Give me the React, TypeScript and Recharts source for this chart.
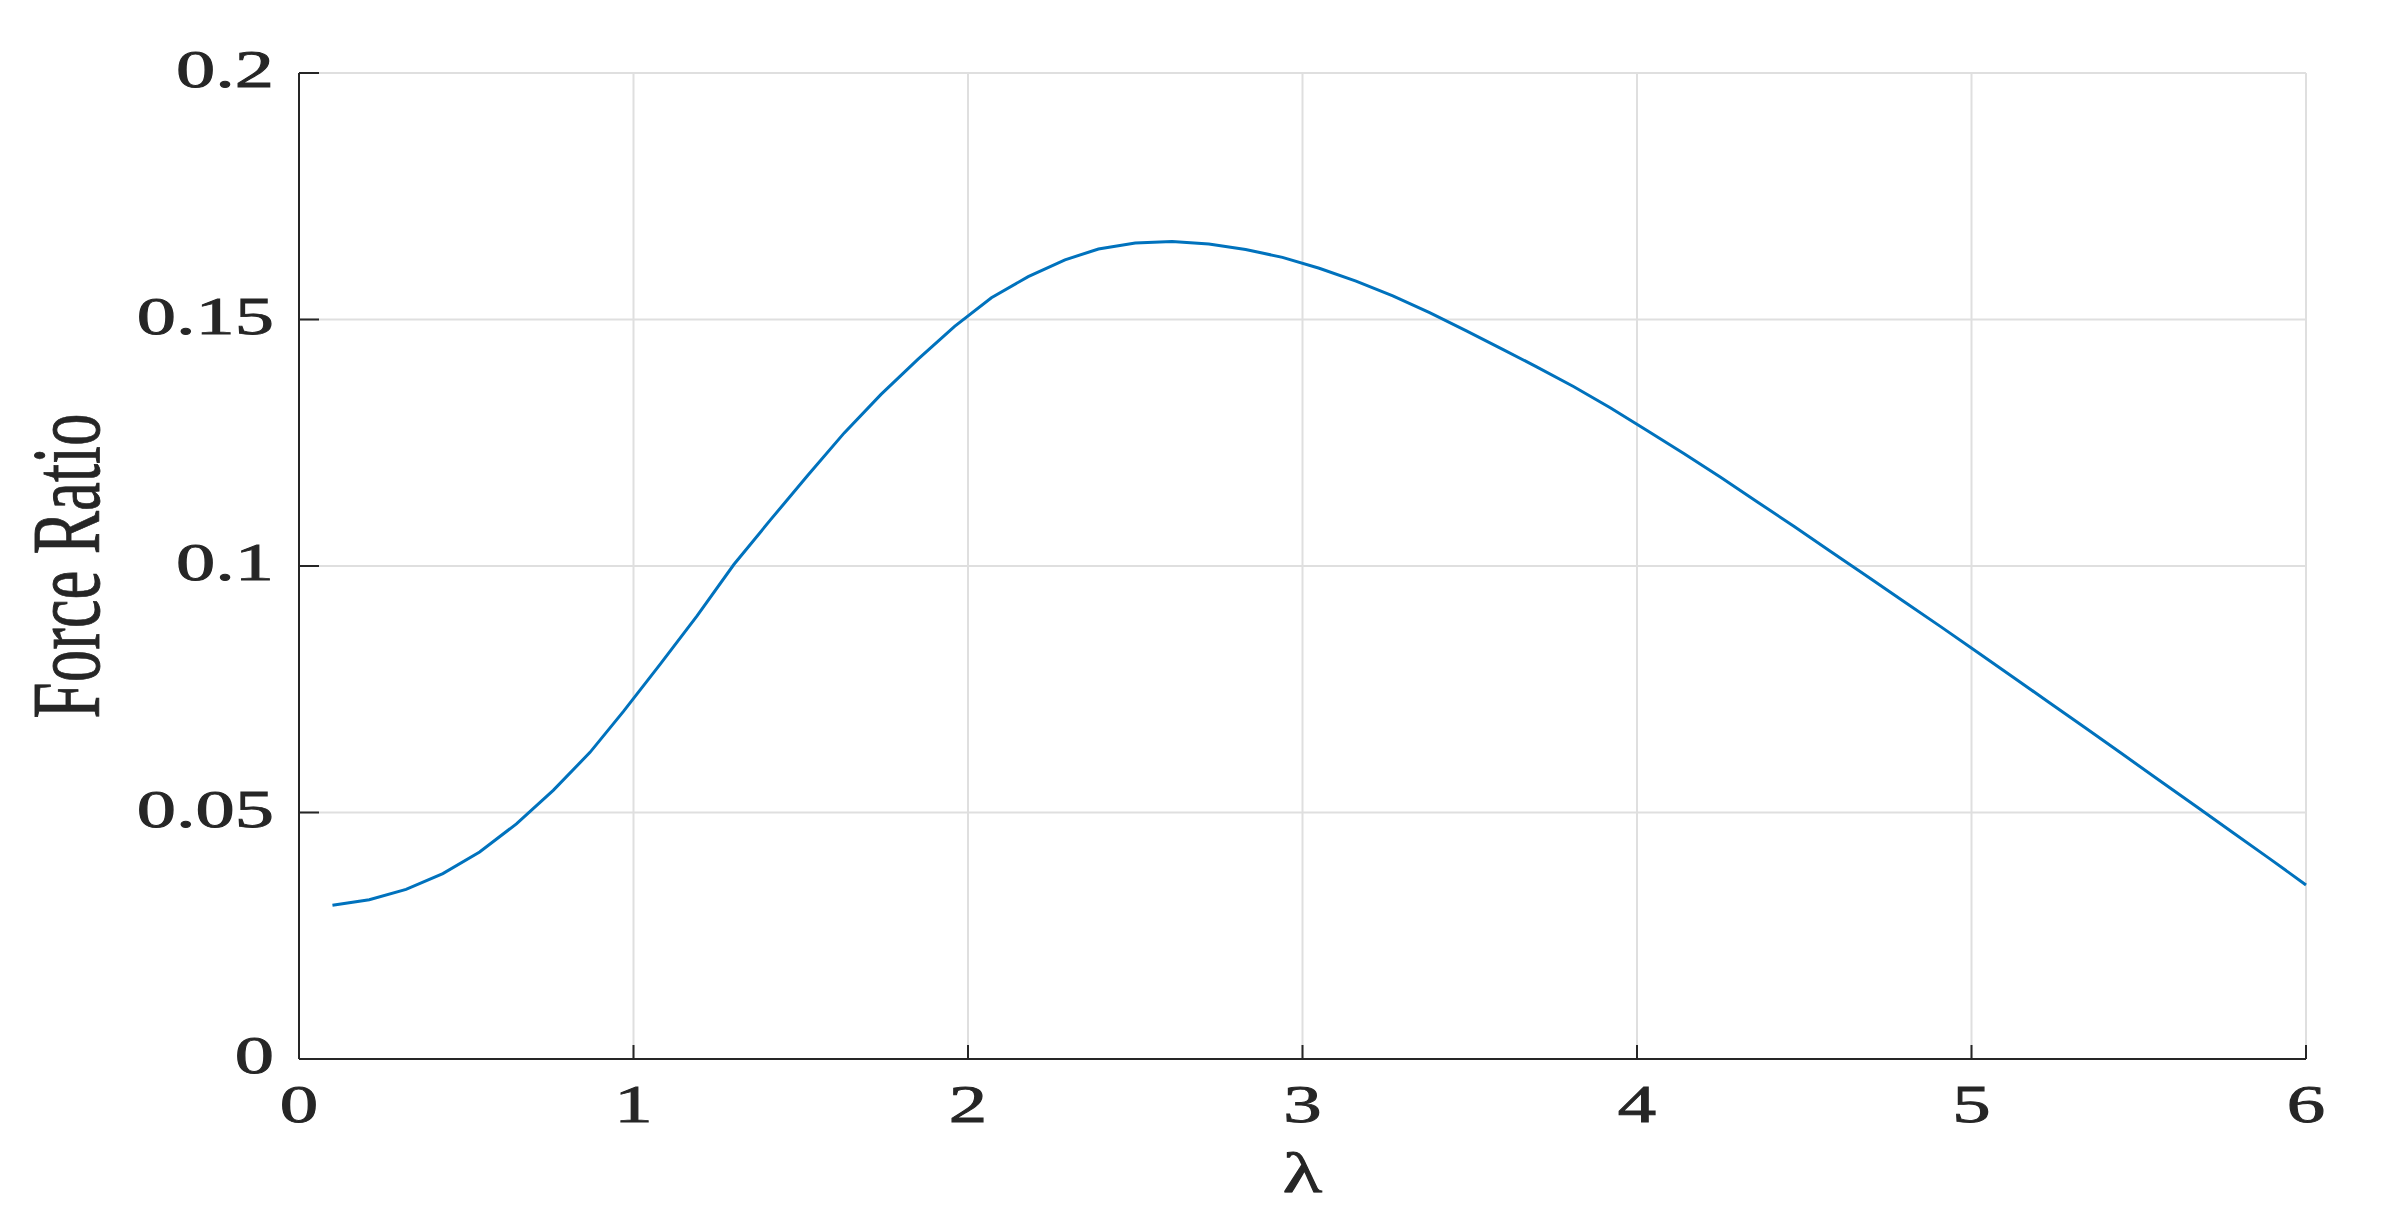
import { LineChart, Line, XAxis, YAxis, CartesianGrid, Label } from 'recharts'

const lambdaValues = [
  0.1, 0.21, 0.32, 0.43, 0.54, 0.65, 0.76, 0.87, 0.97, 1.08, 1.19, 1.3, 1.41,
  1.52, 1.63, 1.74, 1.85, 1.96, 2.07, 2.18, 2.29, 2.39, 2.5, 2.61, 2.72, 2.83,
  2.94, 3.05, 3.16, 3.27, 3.38, 3.49, 3.6, 3.7, 3.81, 3.92, 4.03, 4.14, 4.25,
  4.36, 4.47, 4.58, 4.69, 4.8, 4.91, 5.02, 5.13, 5.23, 5.34, 5.45, 5.56, 5.67,
  5.78, 5.89, 6.0,
]

const forceRatio = [
  0.0312, 0.0323, 0.0344, 0.0376, 0.042, 0.0477, 0.0545, 0.0622, 0.0705,
  0.0801, 0.0899, 0.1003, 0.1094, 0.1183, 0.127, 0.1348, 0.1419, 0.1486,
  0.1544, 0.1587, 0.1621, 0.1643, 0.1655, 0.1658, 0.1653, 0.1642, 0.1626,
  0.1604, 0.1578, 0.1548, 0.1514, 0.1477, 0.1439, 0.1404, 0.1364, 0.1321,
  0.1275, 0.1228, 0.118, 0.113, 0.108, 0.1029, 0.0978, 0.0927, 0.0876,
  0.0824, 0.0772, 0.0724, 0.0672, 0.0619, 0.0566, 0.0513, 0.046, 0.0407,
  0.0353,
]

const xTicks = [0, 1, 2, 3, 4, 5, 6]
const xTickLabels = ['0', '1', '2', '3', '4', '5', '6']
const yTicks = [0, 0.05, 0.1, 0.15, 0.2]
const yTickLabels = ['0', '0.05', '0.1', '0.15', '0.2']

const data = lambdaValues.map((l, i) => ({ lambda: l, ratio: forceRatio[i] }))

const INK = '#262626'
const FONT = '"Liberation Serif", serif'

const XTick = ({ x, y, payload, index }: any) => (
  <g>
    <line x1={x} y1={y} x2={x} y2={y - 14} stroke={INK} strokeWidth={2} />
    <text
      transform={`translate(${x},${y + 63}) scale(1.45,1)`}
      textAnchor="middle"
      fontFamily={FONT}
      fontSize={53}
      fill={INK}
      stroke={INK}
      strokeWidth={0.9}
    >
      {xTickLabels[index] ?? payload.value}
    </text>
  </g>
)

const YTick = ({ x, y, payload, index }: any) => (
  <g>
    <line x1={x} y1={y} x2={x + 20} y2={y} stroke={INK} strokeWidth={2} />
    <text
      transform={`translate(${x - 25},${y + 14}) scale(1.48,1)`}
      textAnchor="end"
      fontFamily={FONT}
      fontSize={53}
      fill={INK}
      stroke={INK}
      strokeWidth={0.9}
    >
      {yTickLabels[index] ?? payload.value}
    </text>
  </g>
)

export default function App() {
  return (
    <div style={{ position: 'absolute', left: 0, top: 0, background: '#fff' }}>
      <LineChart
        width={2395}
        height={1222}
        data={data}
        margin={{ top: 73, right: 89, bottom: 0, left: 0 }}
      >
        <CartesianGrid stroke="#dfdfdf" strokeWidth={2} />
        <XAxis
          dataKey="lambda"
          type="number"
          domain={[0, 6]}
          ticks={xTicks}
          height={163}
          tickSize={0}
          tickMargin={0}
          tickLine={false}
          axisLine={{ stroke: INK, strokeWidth: 2 }}
          tick={<XTick />}
          interval={0}
        >
          <Label
            content={({ viewBox }: any) => (
              <text
                transform={`translate(${viewBox.x + viewBox.width / 2},${viewBox.y + 133}) scale(1.45,1)`}
                textAnchor="middle"
                fontFamily={FONT}
                fontSize={56}
                fill={INK}
                stroke={INK}
                strokeWidth={0.9}
              >
                λ
              </text>
            )}
          />
        </XAxis>
        <YAxis
          type="number"
          domain={[0, 0.2]}
          ticks={yTicks}
          width={299}
          tickSize={0}
          tickMargin={0}
          tickLine={false}
          axisLine={{ stroke: INK, strokeWidth: 2 }}
          tick={<YTick />}
          interval={0}
        >
          <Label
            content={({ viewBox }: any) => (
              <text
                transform={`translate(${viewBox.x + 99},${viewBox.y + viewBox.height / 2}) scale(1.5,1) rotate(-90)`}
                textAnchor="middle"
                fontFamily={FONT}
                fontSize={65}
                fill={INK}
                stroke={INK}
                strokeWidth={0.6}
              >
                Force Ratio
              </text>
            )}
          />
        </YAxis>
        <Line
          type="linear"
          dataKey="ratio"
          stroke="#0072BD"
          strokeWidth={3}
          dot={false}
          isAnimationActive={false}
        />
      </LineChart>
    </div>
  )
}
